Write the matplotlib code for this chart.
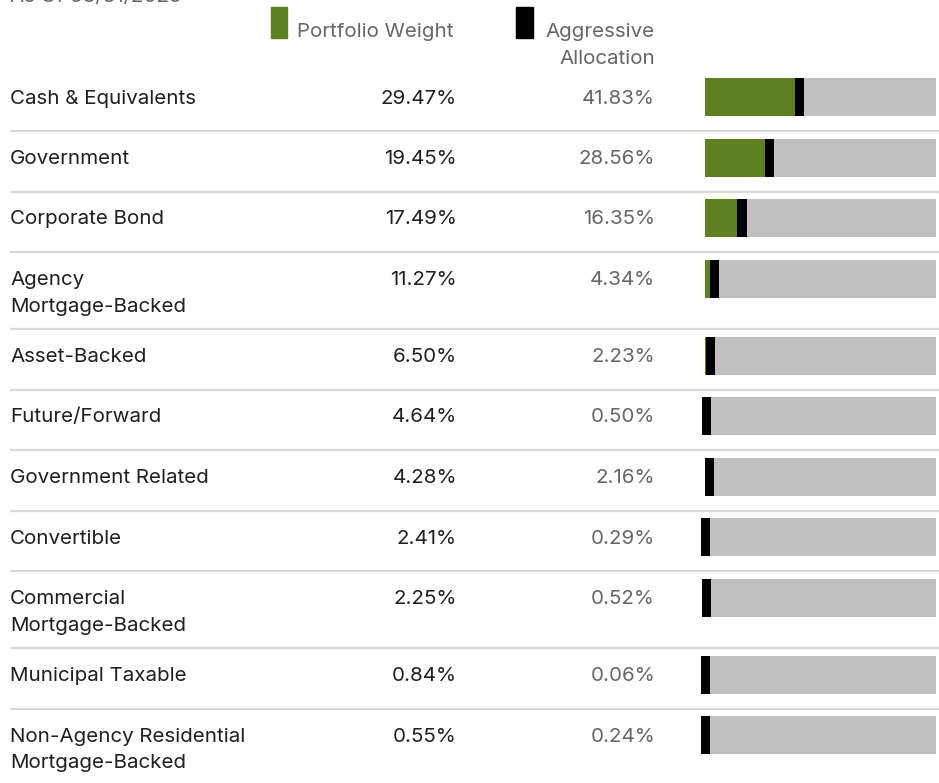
import matplotlib

matplotlib.use("Agg")
import matplotlib.pyplot as plt

plt.rcParams["font.family"] = ["Inter", "DejaVu Sans"]

# Datos
categories = [
    "Cash & Equivalents",
    "Government",
    "Corporate Bond",
    "Agency\nMortgage-Backed",
    "Asset-Backed",
    "Future/Forward",
    "Government Related",
    "Convertible",
    "Commercial\nMortgage-Backed",
    "Municipal Taxable",
    "Non-Agency Residential\nMortgage-Backed",
]
portfolio_weight = [29.47, 19.45, 17.49, 11.27, 6.50, 4.64, 4.28, 2.41, 2.25, 0.84, 0.55]
aggressive_alloc = [41.83, 28.56, 16.35, 4.34, 2.23, 0.50, 2.16, 0.29, 0.52, 0.06, 0.24]
as_of = "As Of 03/31/2025"

GREEN = "#5f7f23"
GRAY_BAR = "#c0c0c0"
LINE = "#d9d9d9"
TEXT = "#1f1f1f"
TEXT_GRAY = "#666666"

W, H = 939, 783
fig = plt.figure(figsize=(W / 100, H / 100), dpi=100)

# eje de maquetación en píxeles
ax = fig.add_axes([0, 0, 1, 1])
ax.set_xlim(0, W)
ax.set_ylim(H, 0)
ax.axis("off")

# eje de barras (0-100 % + medio marcador)
bar_left, bar_w = 705, 231
axb = fig.add_axes([bar_left / W, 0, bar_w / W, 1])
axb.set_xlim(0, 102)
axb.set_ylim(H, 0)
axb.axis("off")

fs = 14.8
line_gap = 27
marker_w = 4.0

# cabecera / leyenda
ax.text(10, 2, as_of, fontsize=fs, color=TEXT_GRAY, va="baseline", ha="left")
ax.add_patch(plt.Rectangle((271, 7), 16, 31, color=GREEN))
ax.text(297, 37, "Portfolio Weight", fontsize=fs, color=TEXT_GRAY, va="baseline", ha="left")
ax.add_patch(plt.Rectangle((516, 7), 17, 31, color="black"))
ax.text(655, 37, "Aggressive", fontsize=fs, color=TEXT_GRAY, va="baseline", ha="right")
ax.text(655, 64, "Allocation", fontsize=fs, color=TEXT_GRAY, va="baseline", ha="right")

top = 70.5
for i, (cat, pw, ag) in enumerate(zip(categories, portfolio_weight, aggressive_alloc)):
    nlines = cat.count("\n") + 1
    row_h = 60.5 + 16.5 * (nlines - 1)
    yc = top + 26.5
    base = yc + 6.5
    if i > 0:
        ax.plot([10, W], [top, top], color=LINE, lw=1.6, solid_capstyle="butt")
    for k, part in enumerate(cat.split("\n")):
        ax.text(10, base + k * line_gap, part, fontsize=fs, color=TEXT, va="baseline", ha="left")
    ax.text(457, base, f"{pw:.2f}%", fontsize=fs, color=TEXT, va="baseline", ha="right")
    ax.text(655, base, f"{ag:.2f}%", fontsize=fs, color=TEXT_GRAY, va="baseline", ha="right")

    axb.barh(yc, 100 + marker_w / 2, height=38, color=GRAY_BAR, left=0)
    axb.barh(yc, ag, height=38, color=GREEN, left=0)
    axb.barh(yc, marker_w, height=38, color="black", left=ag - marker_w / 2, clip_on=False)
    top += row_h

fig.savefig("out.png", dpi=100)
